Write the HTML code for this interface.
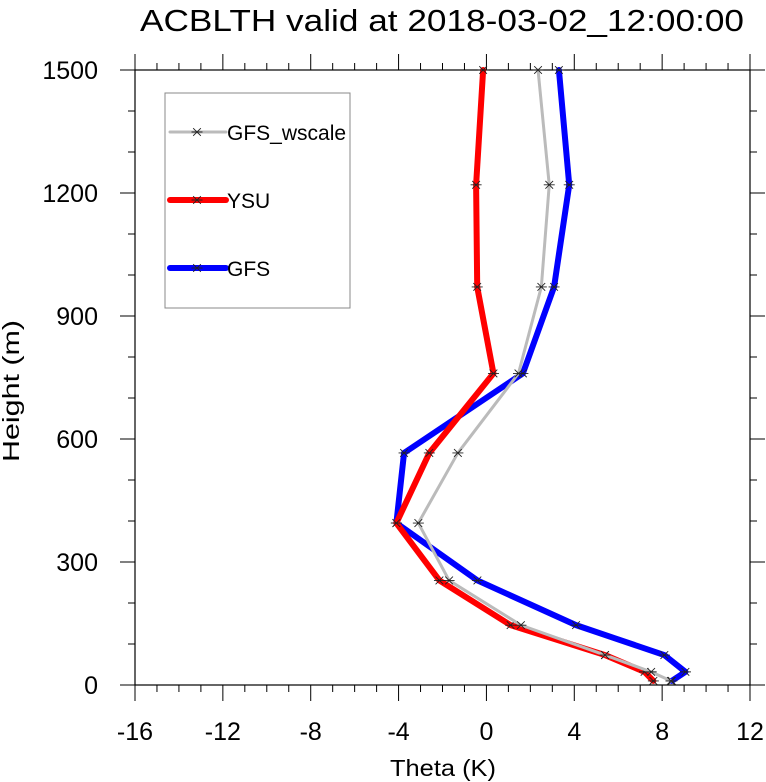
<!DOCTYPE html>
<html><head><meta charset="utf-8"><style>
body{margin:0;background:#fff}
svg{display:block;font-family:"Liberation Sans",sans-serif}
</style></head><body>
<svg id="chart" width="766" height="782" xmlns="http://www.w3.org/2000/svg">
<text x="140" y="31" font-size="31" textLength="604" lengthAdjust="spacingAndGlyphs">ACBLTH valid at 2018-03-02_12:00:00</text>
<g id="axes"></g>
<g id="series"></g>
<g>
<rect x="165" y="93" width="185" height="215" fill="none" stroke="#888" stroke-width="1"/>
<g id="legend"></g>
</g>
<text x="443" y="776" font-size="23" text-anchor="middle" textLength="106" lengthAdjust="spacingAndGlyphs">Theta (K)</text>
<text transform="translate(19,391) rotate(-90)" font-size="23" text-anchor="middle" textLength="142" lengthAdjust="spacingAndGlyphs">Height (m)</text>
</svg>
<script>
const heights = [10, 32, 73, 146, 255, 395, 566, 760, 971, 1220, 1500];
const ysu = [7.6, 7.2, 5.4, 1.1, -2.14, -4.1, -2.6, 0.32, -0.42, -0.47, -0.15];
const gfsWscale = [8.4, 7.5, 5.4, 1.57, -1.7, -3.1, -1.3, 1.46, 2.5, 2.86, 2.35];
const gfs = [8.44, 9.06, 8.1, 4.08, -0.41, -4.1, -3.75, 1.66, 3.08, 3.77, 3.3];
const xTicks = [-16, -12, -8, -4, 0, 4, 8, 12];
const yTicks = [0, 300, 600, 900, 1200, 1500];

const L = 135, R = 750, T = 70, B = 685;
const xMin = -16, xMax = 12, yMin = 0, yMax = 1500;
const NS = "http://www.w3.org/2000/svg";
function sx(v){return L + (v - xMin) / (xMax - xMin) * (R - L);}
function sy(v){return B - (v - yMin) / (yMax - yMin) * (B - T);}
function mk(tag, attrs, parent){const e=document.createElementNS(NS,tag);for(const k in attrs)e.setAttribute(k,attrs[k]);parent.appendChild(e);return e;}

const axes = document.getElementById('axes');
const frame = mk('rect',{x:L,y:T,width:R-L,height:B-T,fill:'none',stroke:'#000','stroke-width':1.2},axes);


for(let v=xMin; v<=xMax; v+=1){
  const major = (v - xMin) % 4 === 0;
  const len = major ? 16 : 7;
  const x = sx(v);
  const t1 = mk('line',{x1:x,x2:x,y1:B,y2:B+len,stroke:'#000','stroke-width':1},axes);
  
  
  const t2 = mk('line',{x1:x,x2:x,y1:T,y2:T-len,stroke:'#000','stroke-width':1},axes);
  
  
}
xTicks.forEach(v=>{
  const t = mk('text',{x:sx(v),y:740,'font-size':25,'text-anchor':'middle'},axes);
  t.textContent = v;
  
  
});
for(let v=yMin; v<=yMax; v+=100){
  const major = v % 300 === 0;
  const len = major ? 15 : 7;
  const y = sy(v);
  const t1 = mk('line',{x1:L,x2:L-len,y1:y,y2:y,stroke:'#000','stroke-width':1},axes);
  
  
  const t2 = mk('line',{x1:R,x2:R+len,y1:y,y2:y,stroke:'#000','stroke-width':1},axes);
  
  
}
yTicks.forEach(v=>{
  const t = mk('text',{x:98,y:sy(v)+9,'font-size':25,'text-anchor':'end'},axes);
  t.textContent = v;
  
  
});

function star(g, x, y){
  const s = 5.5;
  const p = mk('path',{d:`M${x-s} ${y}H${x+s}M${x-s*0.7} ${y-s*0.7}L${x+s*0.7} ${y+s*0.7}M${x-s*0.7} ${y+s*0.7}L${x+s*0.7} ${y-s*0.7}`,stroke:'#222','stroke-width':0.9,fill:'none'},g);
  
  
}
const seriesG = document.getElementById('series');
const defs = [
  {name:'gfs-wscale', vals:gfsWscale, color:'#bbbbbb', w:3, label:'GFS_wscale', ly:132},
  {name:'ysu', vals:ysu, color:'#ff0000', w:6, label:'YSU', ly:200},
  {name:'gfs', vals:gfs, color:'#0000ff', w:6, label:'GFS', ly:268}
];
const drawOrder = [defs[2], defs[1], defs[0]];
drawOrder.forEach(d=>{
  const g = mk('g',{},seriesG);
  
  
  const pts = d.vals.map((v,i)=>sx(v)+','+sy(heights[i])).join(' ');
  const pl = mk('polyline',{points:pts,fill:'none',stroke:d.color,'stroke-width':d.w,'stroke-linejoin':'round','stroke-linecap':'round'},g);
  
  
  d.vals.forEach((v,i)=>star(g, sx(v), sy(heights[i])));
});
const leg = document.getElementById('legend');
defs.forEach(d=>{
  const g = mk('g',{},leg);
  
  
  mk('line',{x1:170,x2:226,y1:d.ly,y2:d.ly,stroke:d.color,'stroke-width':d.w,'stroke-linecap':'round'},g);
  star(g,197,d.ly);
  const t = mk('text',{x:227,y:d.ly+8,'font-size':21},g);
  t.textContent = d.label;
});
</script>
</body></html>
